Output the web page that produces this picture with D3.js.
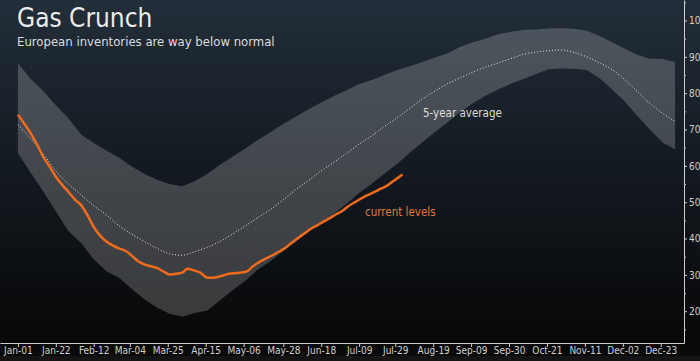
<!DOCTYPE html>
<html>
<head>
<meta charset="utf-8">
<script src="https://cdn.jsdelivr.net/npm/d3@7"></script>
<style>
    html, body { margin: 0; padding: 0; background: #0b0c0d; }
    svg { display: block; font-family: "DejaVu Sans Condensed", "DejaVu Sans", sans-serif; }
</style>
</head>
<body>
<div id="chart"></div>
<script>
// weekly band (5-year range) and average, % full
const bandDates = ['Jan-01', 'Jan-08', 'Jan-15', 'Jan-22', 'Jan-29', 'Feb-05', 'Feb-12', 'Feb-19', 'Feb-26',
    'Mar-05', 'Mar-12', 'Mar-19', 'Mar-26', 'Apr-02', 'Apr-09', 'Apr-16', 'Apr-23', 'Apr-30', 'May-07',
    'May-14', 'May-21', 'May-28', 'Jun-04', 'Jun-11', 'Jun-18', 'Jun-25', 'Jul-02', 'Jul-09', 'Jul-16',
    'Jul-23', 'Jul-30', 'Aug-06', 'Aug-13', 'Aug-20', 'Aug-27', 'Sep-03', 'Sep-10', 'Sep-17', 'Sep-24',
    'Oct-01', 'Oct-08', 'Oct-15', 'Oct-22', 'Oct-29', 'Nov-05', 'Nov-12', 'Nov-19', 'Nov-26', 'Dec-03',
    'Dec-10', 'Dec-17', 'Dec-24', 'Dec-31'];
const upperBand = [88.3, 84.0, 80.6, 76.7, 73.1, 68.6, 66.3, 64.2, 62.3, 59.8, 57.8, 56.2, 55.0, 54.4, 55.8,
    57.8, 60.3, 62.6, 64.8, 67.2, 69.3, 71.5, 73.6, 75.6, 77.4, 79.2, 80.8, 82.5, 83.6, 85.0, 86.4, 87.4,
    88.6, 89.8, 91.0, 92.8, 94.0, 95.0, 96.2, 96.9, 97.4, 97.5, 97.8, 97.9, 97.7, 97.2, 95.8, 94.0, 92.3,
    90.6, 89.5, 89.4, 88.6];
const lowerBand = [63.5, 58.2, 53.0, 47.5, 42.0, 38.8, 34.3, 31.0, 29.2, 26.2, 23.3, 21.0, 19.3, 18.5, 19.5,
    20.2, 23.0, 25.8, 28.4, 31.5, 33.8, 36.6, 39.1, 42.0, 44.6, 46.8, 49.6, 52.5, 55.1, 57.9, 60.5, 63.6,
    66.5, 69.3, 72.0, 74.8, 77.2, 79.3, 81.0, 82.6, 83.9, 85.3, 86.6, 86.8, 86.7, 86.4, 84.2, 81.1, 77.8,
    73.8, 70.0, 66.4, 64.5];
const fiveYearAvg = [71.3, 67.5, 63.3, 58.6, 55.0, 52.0, 49.0, 46.5, 43.5, 41.2, 39.2, 37.3, 35.8, 35.4, 36.4,
    37.6, 39.2, 41.3, 43.5, 45.8, 48.0, 50.7, 53.5, 56.0, 58.6, 61.0, 63.4, 66.0, 68.3, 70.8, 73.2, 75.8,
    78.4, 80.6, 82.6, 84.2, 85.8, 87.2, 88.3, 89.5, 90.7, 91.3, 91.7, 91.9, 91.2, 90.0, 88.4, 86.5, 83.8,
    80.5, 77.2, 74.5, 72.2];

// current year storage levels, % full
const currentDates = ['Jan-01', 'Jan-04', 'Jan-08', 'Jan-12', 'Jan-15', 'Jan-19', 'Jan-22', 'Jan-26', 'Jan-29',
    'Feb-02', 'Feb-05', 'Feb-09', 'Feb-12', 'Feb-16', 'Feb-19', 'Feb-23', 'Feb-26', 'Mar-02', 'Mar-05',
    'Mar-09', 'Mar-12', 'Mar-16', 'Mar-19', 'Mar-23', 'Mar-26', 'Mar-30', 'Apr-02', 'Apr-05', 'Apr-08',
    'Apr-12', 'Apr-16', 'Apr-19', 'Apr-23', 'Apr-27', 'Apr-30', 'May-04', 'May-08', 'May-11', 'May-15',
    'May-18', 'May-22', 'May-26', 'May-29', 'Jun-02', 'Jun-05', 'Jun-09', 'Jun-12', 'Jun-16', 'Jun-19',
    'Jun-23', 'Jun-26', 'Jun-30', 'Jul-03', 'Jul-07', 'Jul-10', 'Jul-14', 'Jul-17', 'Jul-21', 'Jul-24',
    'Jul-28', 'Jul-31', 'Aug-02'];
const currentLevels = [74.1, 72.0, 69.0, 65.5, 62.5, 59.5, 57.0, 54.5, 52.8, 50.5, 49.2, 46.0, 43.2, 40.5,
    39.2, 38.0, 37.3, 36.5, 35.3, 33.6, 32.9, 32.3, 31.9, 30.8, 30.1, 30.3, 30.6, 31.7, 31.3, 30.6, 29.2,
    29.2, 29.6, 30.2, 30.4, 30.6, 31.0, 32.3, 33.6, 34.4, 35.4, 36.5, 37.4, 39.0, 40.1, 41.5, 42.6, 43.7,
    44.6, 45.7, 46.6, 47.7, 48.9, 50.1, 51.0, 52.0, 52.7, 53.7, 54.4, 55.8, 56.9, 57.6];

const xTickLabels = ['Jan-01', 'Jan-22', 'Feb-12', 'Mar-04', 'Mar-25', 'Apr-15', 'May-06', 'May-28', 'Jun-18',
    'Jul-09', 'Jul-29', 'Aug-19', 'Sep-09', 'Sep-30', 'Oct-21', 'Nov-11', 'Dec-02', 'Dec-23'];
const yTickLabels = [20, 30, 40, 50, 60, 70, 80, 90, 100];
const yMinorTicks = [15, 25, 35, 45, 55, 65, 75, 85, 95, 105];

const width = 700;
const height = 361;
const axisX = 684;
const axisY = 343;

const parseDay = (s) => d3.utcParse('%Y-%b-%d')('2021-' + s);

const band = bandDates.map((d, i) => ({ date: parseDay(d), hi: upperBand[i], lo: lowerBand[i], avg: fiveYearAvg[i] }));
const current = currentDates.map((d, i) => ({ date: parseDay(d), value: currentLevels[i] }));

const svg = d3.select('#chart').append('svg').attr('width', width).attr('height', height);

// background
const defs = svg.append('defs');
const grad = defs.append('linearGradient').attr('id', 'bg').attr('x1', 0).attr('y1', 0).attr('x2', 0).attr('y2', 1);
grad.append('stop').attr('offset', '0%').attr('stop-color', '#222e39');
grad.append('stop').attr('offset', '50%').attr('stop-color', '#131920');
grad.append('stop').attr('offset', '100%').attr('stop-color', '#070808');
svg.append('rect').attr('width', width).attr('height', axisY).attr('fill', 'url(#bg)');
svg.append('rect').attr('y', axisY).attr('width', width).attr('height', height - axisY).attr('fill', '#0a0a0a');
svg.append('rect').attr('y', 356).attr('width', width).attr('height', 5).attr('fill', '#141414');

// scales: calibrated on two ticks, then stretched to the axis lines
const xBase = d3.scaleUtc().domain([parseDay('Jan-01'), parseDay('Dec-23')]).range([17.9, 660.7]);
const xScale = d3.scaleUtc().domain([xBase.invert(0), xBase.invert(axisX)]).range([0, axisX]);
const yBase = d3.scaleLinear().domain([20, 100]).range([311.2, 20.5]);
const yScale = d3.scaleLinear().domain([yBase.invert(axisY), yBase.invert(0)]).range([axisY, 0]);

const graph = svg.append('g');

graph
    .append('path')
    .datum(band)
    .attr('fill', '#ffffff')
    .attr('fill-opacity', 0.2)
    .attr('d', d3.area().x((d) => xScale(d.date)).y0((d) => yScale(d.lo)).y1((d) => yScale(d.hi)));

graph
    .append('path')
    .datum(band)
    .attr('fill', 'none')
    .attr('stroke', '#e6e6e6')
    .attr('stroke-width', 1)
    .attr('stroke-dasharray', '1,2')
    .attr('d', d3.line().x((d) => xScale(d.date)).y((d) => yScale(d.avg)).curve(d3.curveMonotoneX));

graph
    .append('path')
    .datum(current)
    .attr('fill', 'none')
    .attr('stroke', '#f26b1d')
    .attr('stroke-width', 2.5)
    .attr('stroke-linejoin', 'round')
    .attr('d', d3.line().x((d) => xScale(d.date)).y((d) => yScale(d.value)).curve(d3.curveMonotoneX));

// annotations
graph.append('text').attr('x', 423).attr('y', 117).attr('font-size', 11.5).attr('fill', '#dedede').text('5-year average');
graph.append('text').attr('x', 365).attr('y', 216).attr('font-size', 11.5).attr('fill', '#e2773a').text('current levels');

// axes
const xAxis = svg
    .append('g')
    .attr('class', 'axis')
    .attr('transform', `translate(0, ${axisY})`)
    .call(d3.axisBottom(xScale).tickValues(xTickLabels.map(parseDay)).tickFormat(d3.utcFormat('%b-%d')).tickSize(4).tickSizeOuter(0).tickPadding(0));

const yAxis = svg
    .append('g')
    .attr('class', 'axis')
    .attr('transform', `translate(${axisX}, 0)`)
    .call(d3.axisRight(yScale).tickValues(yTickLabels).tickSize(3).tickSizeOuter(0).tickPadding(2));

svg
    .append('g')
    .attr('transform', `translate(${axisX}, 0)`)
    .call(d3.axisRight(yScale).tickValues(yMinorTicks).tickSize(2).tickFormat('').tickSizeOuter(0))
    .call((g) => g.select('.domain').remove())
    .selectAll('line')
    .attr('stroke', '#bdbdbd');

svg.selectAll('.axis .domain').attr('stroke', '#cfcfcf');
svg.selectAll('.axis line').attr('stroke', '#cfcfcf');
svg.selectAll('.axis text').attr('fill', '#cfcfcf').attr('font-size', 10).attr('font-family', '"DejaVu Sans Condensed", "DejaVu Sans", sans-serif');
xAxis.selectAll('text').attr('dy', '0.95em').attr('y', 1);

// titles
svg.append('text').attr('x', 17).attr('y', 27).attr('font-size', 26).attr('fill', '#ececec').text('Gas Crunch');
svg.append('text').attr('x', 17).attr('y', 46).attr('font-size', 13).attr('fill', '#dcdcdc').text('European inventories are way below normal');
</script>
</body>
</html>
